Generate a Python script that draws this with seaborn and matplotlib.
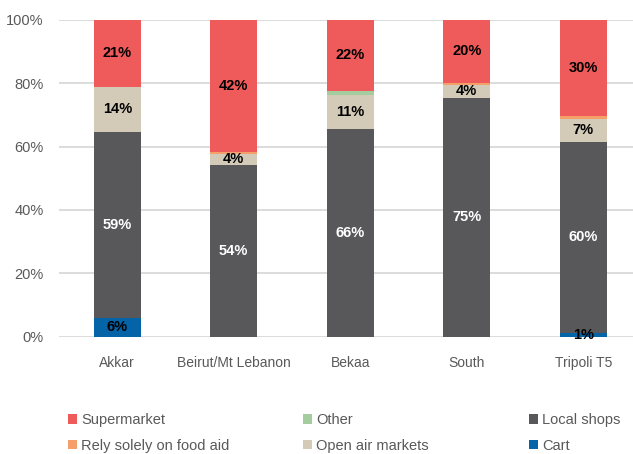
import numpy as np
import pandas as pd
import matplotlib
matplotlib.use("Agg")
import matplotlib.pyplot as plt
import seaborn as sns
from matplotlib.patches import Patch

regions = ["Akkar", "Beirut/Mt Lebanon", "Bekaa", "South", "Tripoli T5"]
# stacked bottom -> top
cart = [6.0, 0.0, 0.0, 0.0, 1.2]
local_shops = [58.7, 54.2, 65.7, 75.4, 60.2]
open_air = [14.2, 3.6, 10.6, 4.1, 7.4]
other = [0.0, 0.0, 1.3, 0.0, 0.0]
food_aid = [0.0, 0.6, 0.0, 0.6, 0.8]
supermarket = [21.1, 41.6, 22.4, 19.9, 30.4]

series_names = ["Cart", "Local shops", "Open air markets", "Other",
                "Rely solely on food aid", "Supermarket"]
series_vals = [cart, local_shops, open_air, other, food_aid, supermarket]
colors = ["#0563A8", "#58585A", "#D3CBB8", "#A4CC9E", "#F5A06A", "#EF5A5A"]
label_colors = {"Cart": "black", "Local shops": "white",
                "Open air markets": "black", "Supermarket": "black"}
yticks = [0, 20, 40, 60, 80, 100]

sns.set_theme(style="white")
plt.rcParams["font.family"] = ["Liberation Sans", "DejaVu Sans"]

fig = plt.figure(figsize=(6.33, 4.54), dpi=100)
ax = fig.add_axes([59 / 633, 117.5 / 454, 582.5 / 633, 316.5 / 454])

vals = np.array(series_vals)
cum = np.cumsum(vals, axis=0)
df = pd.DataFrame({"region": regions})

# draw from top layer to bottom, overplotting
for i in range(len(series_names) - 1, -1, -1):
    d = df.copy()
    d["v"] = cum[i]
    sns.barplot(data=d, x="region", y="v", color=colors[i], width=0.403,
                saturation=1, ax=ax, zorder=3, linewidth=0)

ax.set_ylim(0, 100)
ax.set_xlim(-0.5, 4.5)
ax.set_yticks(yticks)
ax.set_yticklabels([f"{t}%" for t in yticks])
ax.yaxis.grid(True, color="#D9D9D9", linewidth=1.3, zorder=0)
ax.set_axisbelow(True)
for s in ax.spines.values():
    s.set_visible(False)
ax.set_xlabel("")
ax.set_ylabel("")
ax.tick_params(axis="y", colors="#595959", labelsize=10.5, pad=11, length=0)
ax.tick_params(axis="x", colors="#595959", labelsize=10, pad=14, length=0)

# data labels
for i, name in enumerate(series_names):
    if name not in label_colors:
        continue
    for j in range(len(regions)):
        v = vals[i, j]
        if v < 0.5:
            continue
        base = cum[i, j] - v
        ax.text(j, base + v / 2, f"{round(v):d}%", ha="center", va="center",
                fontsize=10.5, fontweight="bold", color=label_colors[name], zorder=5)

# legend: three columns
name_to_color = dict(zip(series_names, colors))
cols = [["Supermarket", "Rely solely on food aid"],
        ["Other", "Open air markets"],
        ["Local shops", "Cart"]]
xpos = [68 / 633, 303 / 633, 529 / 633]
for col, xp in zip(cols, xpos):
    handles = [Patch(facecolor=name_to_color[n], edgecolor="none", label=n) for n in col]
    fig.legend(handles=handles, loc="upper left", bbox_to_anchor=(xp, 1 - 413 / 454),
               frameon=False, fontsize=10.5, labelcolor="#595959",
               handlelength=0.65, handleheight=0.65, handletextpad=0.25,
               labelspacing=0.8, borderpad=0, borderaxespad=0)

fig.savefig("out.png", dpi=100)
